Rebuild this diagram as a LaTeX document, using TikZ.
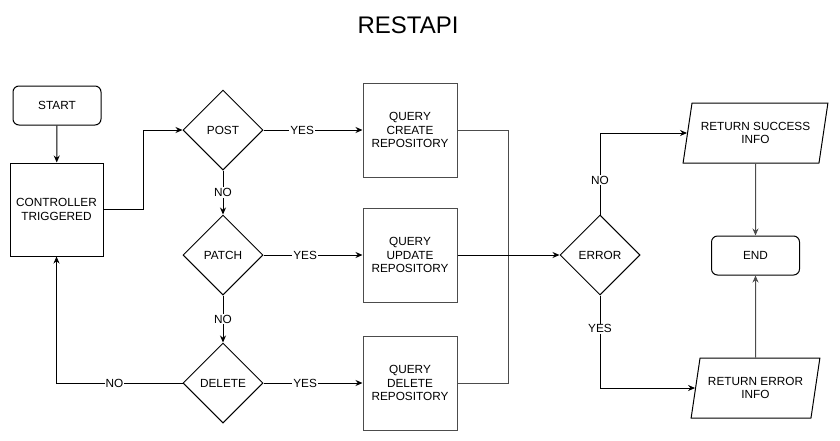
\documentclass[tikz,border=0pt]{standalone}
\usepackage{fontspec}
\setmainfont{Liberation Sans}
\usetikzlibrary{shapes.geometric,arrows.meta}

\tikzset{
    startstop/.style={draw, rounded corners=6pt, minimum width=88pt, minimum height=39pt},
    process/.style={draw=black!70, minimum width=94pt, minimum height=94pt, align=center},
    decision/.style={draw, diamond, aspect=1, inner sep=0pt, minimum width=80pt, minimum height=80pt},
    io/.style={draw, trapezium, trapezium left angle=74, trapezium right angle=106,
        trapezium stretches=true, minimum width=145pt, minimum height=60pt, align=center},
    arr/.style={-{Stealth[length=7pt,width=6pt]}},
    lbl/.style={fill=white, inner sep=1pt}
}

\begin{document}
\begin{tikzpicture}[x=1pt, y=-1pt, line width=1pt, font=\fontsize{11.8}{13.5}\selectfont]
    \useasboundingbox (0,0) rectangle (840,440);
    \node (title) at (408,25) {\fontsize{24}{27}\selectfont RESTAPI};

    % left column
    \node[startstop] (start) at (57,105.5) {START};
    \node[process, draw=black, minimum width=93pt, minimum height=93pt] (ctrl) at (56.5,209.5) {CONTROLLER\\TRIGGERED};

    % method checks
    \node[decision] (post) at (223,130) {POST};
    \node[decision] (patch) at (223,255) {PATCH};
    \node[decision] (del) at (223,383) {DELETE};

    % queries
    \node[process] (create) at (410,130) {QUERY\\CREATE\\REPOSITORY};
    \node[process] (update) at (410,255) {QUERY\\UPDATE\\REPOSITORY};
    \node[process] (delete) at (410,383) {QUERY\\DELETE\\REPOSITORY};

    % result
    \node[decision] (err) at (600,255) {ERROR};
    \node[io] (success) at (755.5,133) {RETURN SUCCESS\\INFO};
    \node[startstop] (end) at (755.5,255.5) {END};
    \node[io, minimum width=129pt] (errinfo) at (755.5,388) {RETURN ERROR\\INFO};

    \draw[arr] (start) -- (ctrl);
    \draw[arr] (ctrl.east) -- ++(40,0) |- (post.west);
    \draw[arr] (post) -- node[lbl]{NO} (patch);
    \draw[arr] (patch) -- node[lbl]{NO} (del);
    \draw[arr] (del.west) -| node[lbl, pos=0.27]{NO} (ctrl.south);
    \draw[arr] (post) -- node[lbl, pos=0.39]{YES} (create);
    \draw[arr] (patch) -- node[lbl, pos=0.42]{YES} (update);
    \draw[arr] (del) -- node[lbl, pos=0.42]{YES} (delete);

    \draw[black!70] (create.east) -- ++(51,0) coordinate (join) |- (delete.east);
    \draw[arr] (update) -- (err);
    \draw[arr] (err.north) |- node[lbl, pos=0.21]{NO} (success.west);
    \draw[arr] (err.south) |- node[lbl, pos=0.18]{YES} (errinfo.west);
    \draw[arr, black!70] (success) -- (end);
    \draw[arr, black!70] (errinfo) -- (end);
\end{tikzpicture}
\end{document}
